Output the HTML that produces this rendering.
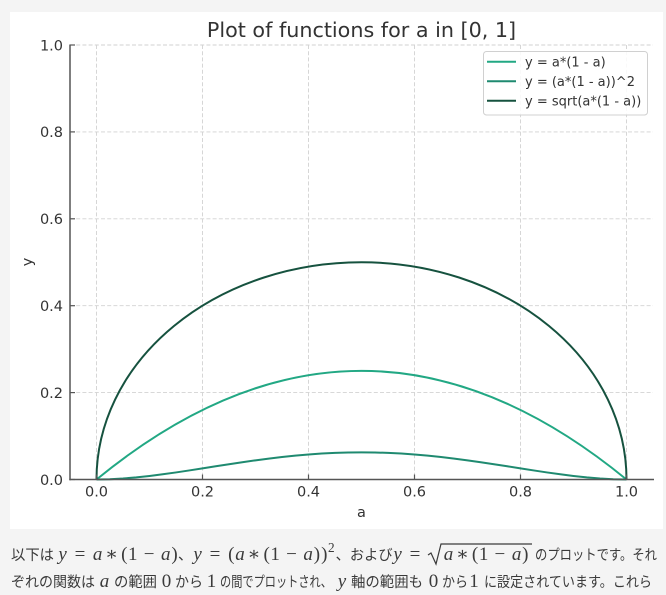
<!DOCTYPE html>
<html>
<head>
<meta charset="utf-8">
<style>
  html,body{margin:0;padding:0;background:#f4f4f4;}
  body{width:666px;height:595px;overflow:hidden;}
  svg{display:block;}
  .tk{font-family:"DejaVu Sans","Liberation Sans",sans-serif;font-size:14.5px;fill:#333;}
  .lg{font-family:"DejaVu Sans","Liberation Sans",sans-serif;font-size:13px;fill:#333;}
  .jp{font-family:"Liberation Sans","Noto Sans CJK JP",sans-serif;font-size:14.5px;fill:#3a3a3a;}
  .mi{font-family:"Liberation Serif","DejaVu Serif",serif;font-style:italic;font-size:19px;fill:#3a3a3a;}
  .mr{font-family:"Liberation Serif","DejaVu Serif",serif;font-size:19px;fill:#3a3a3a;}
  .ms{font-family:"Liberation Serif","DejaVu Serif",serif;font-size:13.3px;fill:#3a3a3a;}
</style>
</head>
<body>
<svg width="666" height="595" viewBox="0 0 666 595" xmlns="http://www.w3.org/2000/svg">
  <rect x="0" y="0" width="666" height="595" fill="#f4f4f4"/>
  <rect x="10" y="12" width="653" height="517" fill="#ffffff"/>

  <!-- title -->
  <text x="361.5" y="37" text-anchor="middle" font-family="DejaVu Sans, Liberation Sans, sans-serif" font-size="20.7" fill="#333">Plot of functions for a in [0, 1]</text>

  <!-- grid -->
  <g stroke="#d2d2d2" stroke-width="0.9" stroke-dasharray="4,2.2" fill="none">
    <line x1="96.5" y1="45" x2="96.5" y2="479.5"/>
    <line x1="202.5" y1="45" x2="202.5" y2="479.5"/>
    <line x1="308.5" y1="45" x2="308.5" y2="479.5"/>
    <line x1="414.5" y1="45" x2="414.5" y2="479.5"/>
    <line x1="520.5" y1="45" x2="520.5" y2="479.5"/>
    <line x1="626.5" y1="45" x2="626.5" y2="479.5"/>
    <line x1="70" y1="45" x2="653" y2="45"/>
    <line x1="70" y1="131.9" x2="653" y2="131.9"/>
    <line x1="70" y1="218.8" x2="653" y2="218.8"/>
    <line x1="70" y1="305.7" x2="653" y2="305.7"/>
    <line x1="70" y1="392.6" x2="653" y2="392.6"/>
  </g>

  <!-- curves -->
  <g fill="none" stroke-width="2" stroke-linejoin="round" stroke-linecap="butt">
    <path d="M96.5,479.5 Q361.5,262.25 626.5,479.5" stroke="#22a884"/>
    <polyline stroke="#1f8a70" points="96.5,479.5 109.75,479.24 123,478.52 136.25,477.41 149.5,475.98 162.75,474.30 176,472.44 189.25,470.44 202.5,468.38 215.75,466.29 229,464.22 242.25,462.23 255.5,460.34 268.75,458.59 282,457.01 295.25,455.63 308.5,454.47 321.75,453.55 335,452.88 348.25,452.48 361.5,452.34 374.75,452.48 388,452.88 401.25,453.55 414.5,454.47 427.75,455.63 441,457.01 454.25,458.59 467.5,460.34 480.75,462.23 494,464.22 507.25,466.29 520.5,468.38 533.75,470.44 547,472.44 560.25,474.30 573.5,475.98 586.75,477.41 600,478.52 613.25,479.24 626.5,479.5"/>
    <path d="M96.5,479.5 A265,217.25 0 0 1 626.5,479.5" stroke="#16523f"/>
  </g>

  <!-- spines -->
  <g stroke="#555" stroke-width="1.5" fill="none">
    <line x1="70" y1="44.5" x2="70" y2="480.2"/>
    <line x1="69.3" y1="479.5" x2="654" y2="479.5"/>
  </g>
  <!-- ticks (inward) -->
  <g stroke="#555" stroke-width="1.2">
    <line x1="70" y1="45" x2="75" y2="45"/>
    <line x1="70" y1="131.9" x2="75" y2="131.9"/>
    <line x1="70" y1="218.8" x2="75" y2="218.8"/>
    <line x1="70" y1="305.7" x2="75" y2="305.7"/>
    <line x1="70" y1="392.6" x2="75" y2="392.6"/>
    <line x1="70" y1="479.5" x2="75" y2="479.5"/>
    <line x1="96.5" y1="479.5" x2="96.5" y2="474.5"/>
    <line x1="202.5" y1="479.5" x2="202.5" y2="474.5"/>
    <line x1="308.5" y1="479.5" x2="308.5" y2="474.5"/>
    <line x1="414.5" y1="479.5" x2="414.5" y2="474.5"/>
    <line x1="520.5" y1="479.5" x2="520.5" y2="474.5"/>
    <line x1="626.5" y1="479.5" x2="626.5" y2="474.5"/>
  </g>

  <!-- y tick labels -->
  <g class="tk" text-anchor="end">
    <text x="63" y="50.3">1.0</text>
    <text x="63" y="137.2">0.8</text>
    <text x="63" y="224.1">0.6</text>
    <text x="63" y="311">0.4</text>
    <text x="63" y="397.9">0.2</text>
    <text x="63" y="484.8">0.0</text>
  </g>
  <!-- x tick labels -->
  <g class="tk" text-anchor="middle">
    <text x="96.5" y="496.5">0.0</text>
    <text x="202.5" y="496.5">0.2</text>
    <text x="308.5" y="496.5">0.4</text>
    <text x="414.5" y="496.5">0.6</text>
    <text x="520.5" y="496.5">0.8</text>
    <text x="626.5" y="496.5">1.0</text>
  </g>
  <!-- axis labels -->
  <text class="tk" x="361.5" y="517" text-anchor="middle">a</text>
  <text class="tk" x="0" y="0" text-anchor="middle" transform="translate(32,262) rotate(-90)">y</text>

  <!-- legend -->
  <rect x="483.5" y="51.5" width="164" height="63.5" rx="3" ry="3" fill="#ffffff" fill-opacity="0.85" stroke="#d0d0d0" stroke-width="1"/>
  <g stroke-width="2">
    <line x1="487" y1="61.7" x2="516" y2="61.7" stroke="#22a884"/>
    <line x1="487" y1="81.2" x2="516" y2="81.2" stroke="#1f8a70"/>
    <line x1="487" y1="100.8" x2="516" y2="100.8" stroke="#16523f"/>
  </g>
  <g class="lg">
    <text x="525" y="66.3">y = a*(1 - a)</text>
    <text x="525" y="85.8">y = (a*(1 - a))^2</text>
    <text x="525" y="105.4">y = sqrt(a*(1 - a))</text>
  </g>

  <!-- caption line 1 -->
  <g>
    <text class="jp" x="11" y="560" textLength="43" lengthAdjust="spacingAndGlyphs">以下は</text>
    <g text-anchor="middle">
      <text class="mi" x="62.6" y="560">y</text>
      <text class="mr" x="80" y="560">=</text>
      <text class="mi" x="97.6" y="560">a</text>
      <text class="mr" x="111.6" y="560">∗</text>
      <text class="mr" x="124.3" y="560">(</text>
      <text class="mr" x="132.8" y="560">1</text>
      <text class="mr" x="149.1" y="560">−</text>
      <text class="mi" x="165.7" y="560">a</text>
      <text class="mr" x="174.5" y="560">)</text>
    </g>
    <text class="jp" x="178" y="560">、</text>
    <g text-anchor="middle">
      <text class="mi" x="197.6" y="560">y</text>
      <text class="mr" x="215" y="560">=</text>
      <text class="mr" x="231.3" y="560">(</text>
      <text class="mi" x="240" y="560">a</text>
      <text class="mr" x="254" y="560">∗</text>
      <text class="mr" x="266.7" y="560">(</text>
      <text class="mr" x="275.1" y="560">1</text>
      <text class="mr" x="291.5" y="560">−</text>
      <text class="mi" x="308.1" y="560">a</text>
      <text class="mr" x="316.9" y="560">)</text>
      <text class="mr" x="324.3" y="560">)</text>
      <text class="ms" x="331.3" y="552">2</text>
    </g>
    <text class="jp" x="335.6" y="560" textLength="57" lengthAdjust="spacingAndGlyphs">、および</text>
    <g text-anchor="middle">
      <text class="mi" x="397.6" y="560">y</text>
      <text class="mr" x="415" y="560">=</text>
      <text class="mi" x="448.5" y="560">a</text>
      <text class="mr" x="462.5" y="560">∗</text>
      <text class="mr" x="475.1" y="560">(</text>
      <text class="mr" x="483.6" y="560">1</text>
      <text class="mr" x="499.9" y="560">−</text>
      <text class="mi" x="516.6" y="560">a</text>
      <text class="mr" x="525.3" y="560">)</text>
    </g>
    <path d="M428,555 L431,553 L436,564 L441,544 L532,544" fill="none" stroke="#3a3a3a" stroke-width="1.2"/>
    <text class="jp" x="535" y="560" textLength="122" lengthAdjust="spacingAndGlyphs">のプロットです。それ</text>
  </g>

  <!-- caption line 2 -->
  <g>
    <text class="jp" x="11" y="587" textLength="84" lengthAdjust="spacingAndGlyphs">ぞれの関数は</text>
    <text class="mi" x="104.5" y="587" text-anchor="middle">a</text>
    <text class="jp" x="114" y="587" textLength="43" lengthAdjust="spacingAndGlyphs">の範囲</text>
    <text class="mr" x="166.5" y="587" text-anchor="middle">0</text>
    <text class="jp" x="175" y="587" textLength="28" lengthAdjust="spacingAndGlyphs">から</text>
    <text class="mr" x="211.5" y="587" text-anchor="middle">1</text>
    <text class="jp" x="220" y="587" textLength="112" lengthAdjust="spacingAndGlyphs">の間でプロットされ、</text>
    <text class="mi" x="342" y="587" text-anchor="middle">y</text>
    <text class="jp" x="351" y="587" textLength="72" lengthAdjust="spacingAndGlyphs">軸の範囲も</text>
    <text class="mr" x="433.5" y="587" text-anchor="middle">0</text>
    <text class="jp" x="442" y="587" textLength="26" lengthAdjust="spacingAndGlyphs">から</text>
    <text class="mr" x="474" y="587" text-anchor="middle">1</text>
    <text class="jp" x="484" y="587" textLength="168" lengthAdjust="spacingAndGlyphs">に設定されています。これら</text>
  </g>
</svg>
</body>
</html>
